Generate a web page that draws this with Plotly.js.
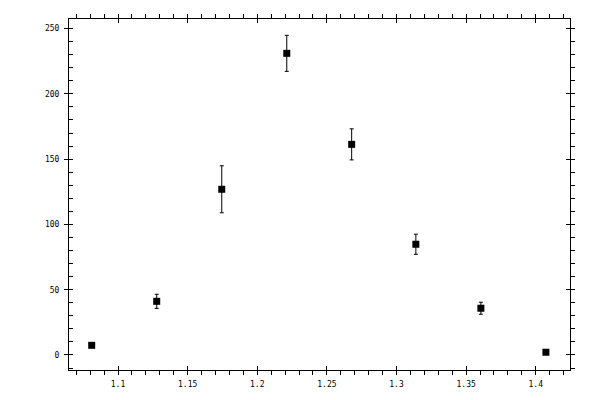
<!DOCTYPE html>
<html>
<head>
<meta charset="utf-8">
<script src="https://cdn.plot.ly/plotly-3.0.1.min.js"></script>
<style>
  html, body { margin: 0; padding: 0; background: #fff; }
  #graph { width: 600px; height: 400px; }
</style>
</head>
<body>
<div id="graph"></div>
<script>
const xValues = [1.0811, 1.1278, 1.1745, 1.2212, 1.2678, 1.3139, 1.3606, 1.4073];
const yValues = [7.4, 41.1, 126.9, 231.0, 161.3, 84.8, 35.8, 2.1];
const yErrors = [1.0, 5.4, 18.0, 13.8, 11.9, 7.7, 4.6, 1.0];

const xRange = [1.0648, 1.4246];
const yRange = [-11.5, 257.3];

const tickFont = { family: "DejaVu Sans Mono, monospace", size: 8, color: "#000" };

const traces = [
  {
    x: xValues,
    y: yValues,
    type: "scatter",
    mode: "markers",
    marker: { symbol: "square", size: 7, color: "#000" },
    error_y: { type: "data", array: yErrors, visible: true, color: "#000", thickness: 1, width: 2 },
    hoverinfo: "x+y"
  },
  // empty traces so the overlay axes get drawn
  { x: [], y: [], xaxis: "x2", yaxis: "y", type: "scatter", showlegend: false },
  { x: [], y: [], xaxis: "x", yaxis: "y2", type: "scatter", showlegend: false },
  { x: [], y: [], xaxis: "x", yaxis: "y3", type: "scatter", showlegend: false }
];

const axisBase = {
  showline: true,
  linecolor: "#000",
  linewidth: 1,
  showgrid: false,
  zeroline: false,
  tickcolor: "#000",
  tickwidth: 1,
  autorange: false,
  fixedrange: true
};

Plotly.newPlot("graph", traces, {
  width: 600,
  height: 400,
  paper_bgcolor: "#fff",
  plot_bgcolor: "#fff",
  showlegend: false,
  margin: { l: 69, r: 30, t: 19, b: 30 },
  xaxis: Object.assign({}, axisBase, {
    range: xRange,
    tick0: 1.1, dtick: 0.05,
    ticks: "outside", ticklen: 4,
    mirror: "ticks",
    minor: { dtick: 0.01, tick0: 1.1, ticks: "outside", ticklen: 4, tickcolor: "#000", showgrid: false },
    tickfont: tickFont,
    ticklabelstandoff: 2
  }),
  xaxis2: Object.assign({}, axisBase, {
    range: xRange,
    overlaying: "x",
    anchor: "y",
    tick0: 1.1, dtick: 0.05,
    ticks: "inside", ticklen: 4,
    mirror: "ticks",
    showticklabels: false
  }),
  yaxis: Object.assign({}, axisBase, {
    range: yRange,
    tick0: 0, dtick: 50,
    ticks: "outside", ticklen: 4,
    minor: { dtick: 10, tick0: 0, ticks: "inside", ticklen: 4, tickcolor: "#000", showgrid: false },
    tickfont: tickFont,
    ticklabelstandoff: 3
  }),
  yaxis2: Object.assign({}, axisBase, {
    range: yRange,
    overlaying: "y",
    side: "right",
    anchor: "x",
    tick0: 0, dtick: 50,
    ticks: "outside", ticklen: 4,
    minor: { dtick: 10, tick0: 0, ticks: "outside", ticklen: 4, tickcolor: "#000", showgrid: false },
    showticklabels: false
  }),
  yaxis3: Object.assign({}, axisBase, {
    range: yRange,
    overlaying: "y",
    anchor: "x",
    tick0: 0, dtick: 50,
    ticks: "inside", ticklen: 4,
    mirror: "ticks",
    showticklabels: false
  })
}, { displayModeBar: false, staticPlot: true });
</script>
</body>
</html>
